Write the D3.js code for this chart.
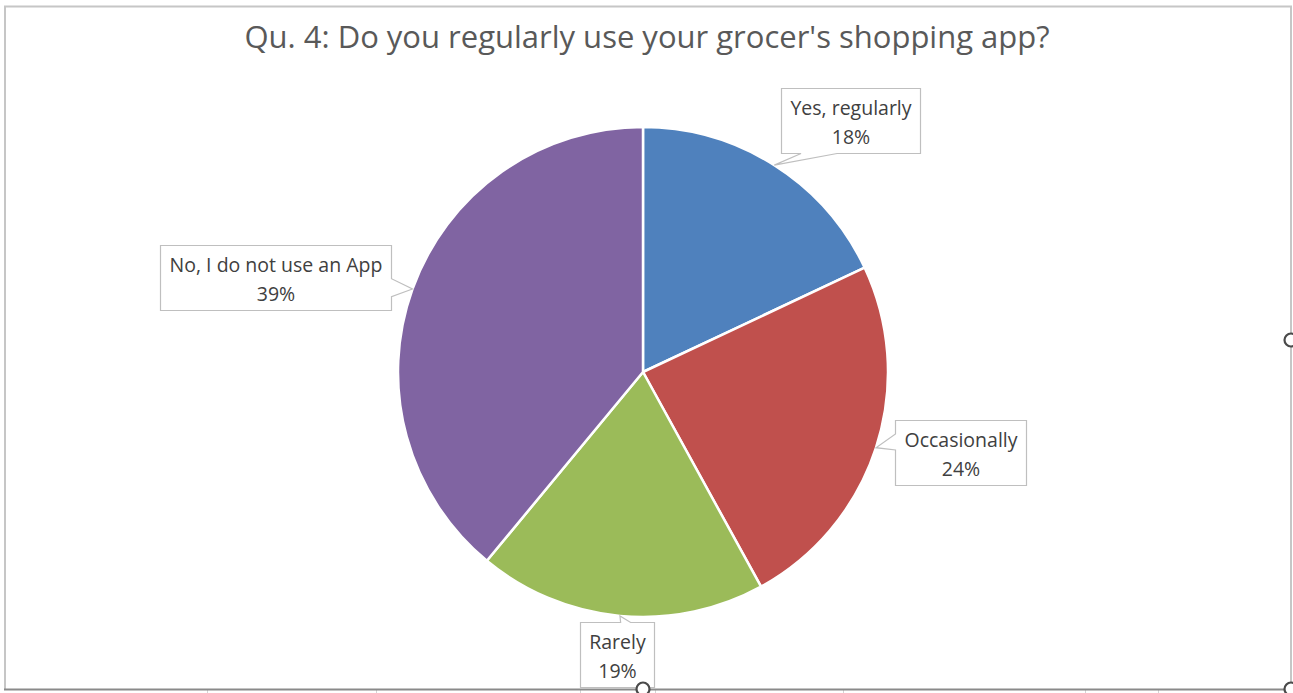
<!DOCTYPE html>
<html>
<head>
<meta charset="utf-8">
<script src="https://cdn.jsdelivr.net/npm/d3@7/dist/d3.min.js"></script>
<style>
  html, body { margin: 0; padding: 0; background: #ffffff; }
  svg { display: block; }
</style>
</head>
<body>
<svg id="chart" width="1293" height="693"></svg>
<script>
// Survey answers, clockwise from 12 o'clock
const categories = ["Yes, regularly", "Occasionally", "Rarely", "No, I do not use an App"];
const values = [18, 24, 19, 39];
const sliceColors = ["#4F81BD", "#C0504D", "#9BBB59", "#8064A2"];
const titleText = "Qu. 4: Do you regularly use your grocer's shopping app?";

// Callout placement: box centre offset from the slice's edge point,
// the box side carrying the pointer, where along that side it sits, and its half width.
const calloutLayout = [
  { dx: 76,   dy: -45, side: "bottom", at: 0.27, hw: 18 },
  { dx: 84,   dy: 5,   side: "left",   at: 0.33, hw: 8 },
  { dx: -3,   dy: 39,  side: "top",    at: 0.61, hw: 5 },
  { dx: -137, dy: -12, side: "right",  at: 0.65, hw: 9 }
];

const W = 1293, H = 693;
const cx = 643, cy = 372, radius = 245;

const svg = d3.select("#chart");

// Chart area frame
const frame = svg.append("g");
frame.append("rect").attr("x", 0).attr("y", 0).attr("width", W).attr("height", H).attr("fill", "#ffffff");
frame.append("line").attr("x1", 4).attr("x2", 1292).attr("y1", 6.5).attr("y2", 6.5)
  .attr("stroke", "#c6c6c6").attr("stroke-width", 2);
frame.append("line").attr("x1", 5).attr("x2", 5).attr("y1", 6).attr("y2", 690)
  .attr("stroke", "#c6c6c6").attr("stroke-width", 2);
frame.append("line").attr("x1", 1291).attr("x2", 1291).attr("y1", 6).attr("y2", 690)
  .attr("stroke", "#c6c6c6").attr("stroke-width", 2);

// Title
svg.append("text")
  .attr("x", W / 2 + 0.5)
  .attr("y", 48)
  .attr("text-anchor", "middle")
  .attr("font-family", "'Open Sans', sans-serif")
  .attr("font-size", 31)
  .attr("fill", "#595959")
  .text(titleText);

// Pie
const pie = d3.pie().sort(null).value(d => d)(values);
const arc = d3.arc().innerRadius(0).outerRadius(radius);

const g = svg.append("g").attr("transform", `translate(${cx},${cy})`);
g.selectAll("path.slice")
  .data(pie)
  .join("path")
  .attr("class", "slice")
  .attr("d", arc)
  .attr("fill", (d, i) => sliceColors[i])
  .attr("stroke", "#ffffff")
  .attr("stroke-width", 2.5)
  .attr("stroke-linejoin", "round");

// Callout labels
const labelFont = "'Open Sans', sans-serif";
const labelSize = 19.5;
const padX = 9, boxH = 65, firstBase = 26, lineGap = 29;

const labels = svg.append("g");
pie.forEach((d, i) => {
  const lay = calloutLayout[i];
  const mid = (d.startAngle + d.endAngle) / 2;
  const tip = [cx + radius * Math.sin(mid), cy - radius * Math.cos(mid)];

  const grp = labels.append("g");
  const t1 = grp.append("text")
    .attr("text-anchor", "middle")
    .attr("font-family", labelFont)
    .attr("font-size", labelSize)
    .attr("fill", "#404040")
    .text(categories[i]);
  const t2 = grp.append("text")
    .attr("text-anchor", "middle")
    .attr("font-family", labelFont)
    .attr("font-size", labelSize)
    .attr("fill", "#404040")
    .text(values[i] + "%");

  const tw = Math.max(t1.node().getComputedTextLength(), t2.node().getComputedTextLength());
  const bw = Math.round(tw + 2 * padX);
  const bx = Math.round(tip[0] + lay.dx - bw / 2) + 0.5;
  const by = Math.round(tip[1] + lay.dy - boxH / 2) + 0.5;
  const x0 = bx, x1 = bx + bw, y0 = by, y1 = by + boxH;

  // Outline walked clockwise, with the pointer spliced into its side
  const p = d3.path();
  p.moveTo(x0, y0);
  if (lay.side === "top") {
    const c = x0 + bw * lay.at;
    p.lineTo(c - lay.hw, y0); p.lineTo(tip[0], tip[1]); p.lineTo(c + lay.hw, y0);
  }
  p.lineTo(x1, y0);
  if (lay.side === "right") {
    const c = y0 + boxH * lay.at;
    p.lineTo(x1, c - lay.hw); p.lineTo(tip[0], tip[1]); p.lineTo(x1, c + lay.hw);
  }
  p.lineTo(x1, y1);
  if (lay.side === "bottom") {
    const c = x0 + bw * lay.at;
    p.lineTo(c + lay.hw, y1); p.lineTo(tip[0], tip[1]); p.lineTo(c - lay.hw, y1);
  }
  p.lineTo(x0, y1);
  if (lay.side === "left") {
    const c = y0 + boxH * lay.at;
    p.lineTo(x0, c + lay.hw); p.lineTo(tip[0], tip[1]); p.lineTo(x0, c - lay.hw);
  }
  p.closePath();

  grp.insert("path", "text")
    .attr("d", p.toString())
    .attr("fill", "#ffffff")
    .attr("stroke", "#bfbfbf")
    .attr("stroke-width", 1.2)
    .attr("stroke-linejoin", "miter");

  const tx = bx + bw / 2;
  t1.attr("x", tx).attr("y", by + firstBase);
  t2.attr("x", tx).attr("y", by + firstBase + lineGap);
});

// Bottom edge of the frame and the sheet grid peeking below it
const bottom = svg.append("g");
bottom.append("rect").attr("x", 0).attr("y", 690).attr("width", W).attr("height", 3).attr("fill", "#ffffff");
[207, 376, 580, 655, 843, 1085, 1158].forEach(x => {
  bottom.append("line").attr("x1", x + 0.5).attr("x2", x + 0.5).attr("y1", 690).attr("y2", 693)
    .attr("stroke", "#d4d4d4").attr("stroke-width", 1);
});
bottom.append("line").attr("x1", 4).attr("x2", 1292).attr("y1", 689.5).attr("y2", 689.5)
  .attr("stroke", "#8a8a8a").attr("stroke-width", 2);

// Selection handles
[[643, 689], [1291, 340], [1291, 689]].forEach(([x, y]) => {
  svg.append("circle").attr("cx", x).attr("cy", y).attr("r", 6.5)
    .attr("fill", "#ffffff").attr("stroke", "#4a4a4a").attr("stroke-width", 2.2);
});
</script>
</body>
</html>
